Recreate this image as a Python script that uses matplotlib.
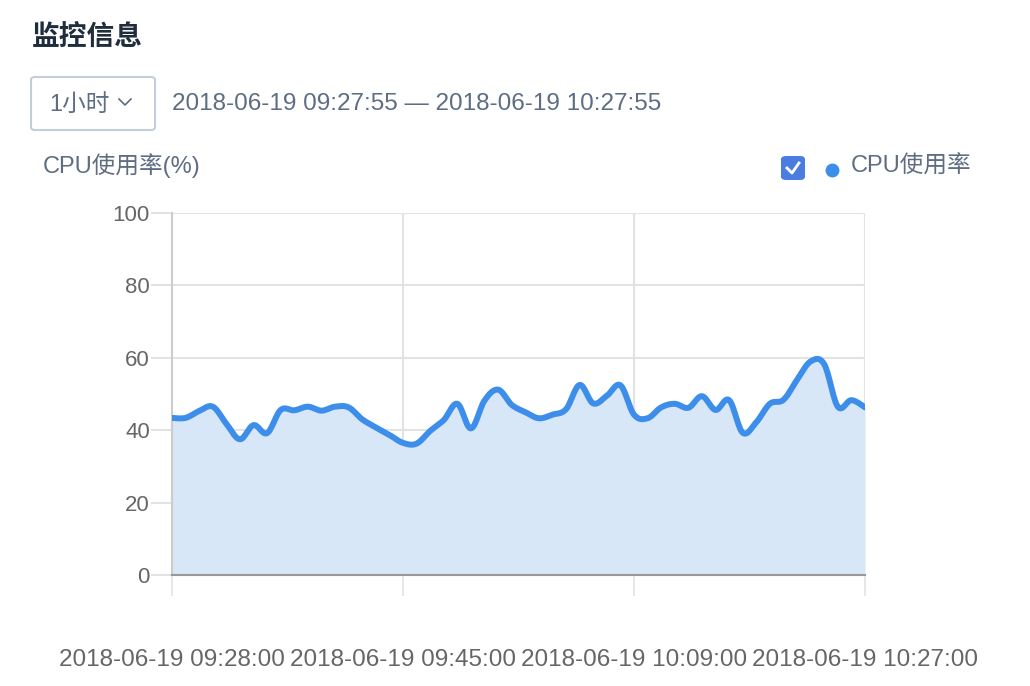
import numpy as np
import matplotlib
matplotlib.use('Agg')
import matplotlib.pyplot as plt
from matplotlib.patches import FancyBboxPatch
from matplotlib.lines import Line2D

plt.rcParams['font.family'] = ['Liberation Sans', 'Noto Sans CJK SC', 'DejaVu Sans']

'''
data read off the chart (one value per category point)
'''
cpu_usage = [43.4, 43.4, 45.3, 46.5, 41.8, 37.5, 41.4, 39.2, 45.6, 45.5,
             46.5, 45.4, 46.5, 46.3, 43.0, 40.8, 38.7, 36.5, 36.3, 39.8,
             42.8, 47.3, 40.5, 48.2, 51.2, 47.0, 45.0, 43.3, 44.3, 45.8,
             52.5, 47.4, 49.5, 52.4, 44.3, 43.3, 46.3, 47.3, 46.2, 49.4,
             45.6, 48.3, 39.3, 42.2, 47.3, 48.4, 53.9, 59.0, 58.2, 46.5,
             48.3, 46.3]
tick_index = [0, 17, 34, 51]
tick_labels = ['2018-06-19 09:28:00', '2018-06-19 09:45:00',
               '2018-06-19 10:09:00', '2018-06-19 10:27:00']
y_ticks = [0, 20, 40, 60, 80, 100]

W, H = 1030, 686
LINE_BLUE = '#3d8eea'
FILL_BLUE = '#d7e7f8'
TEXT_GRAY = '#5e6d82'


def px(x, y):
    return x / W, 1 - y / H


'''
smooth curve through the points (cardinal bezier, like echarts smooth)
'''


def smooth(xs, ys, t=0.35, n=16):
    xs = np.asarray(xs, float)
    ys = np.asarray(ys, float)
    out_x, out_y = [], []
    m = len(xs)
    for i in range(m - 1):
        p0 = np.array([xs[max(i - 1, 0)], ys[max(i - 1, 0)]])
        p1 = np.array([xs[i], ys[i]])
        p2 = np.array([xs[i + 1], ys[i + 1]])
        p3 = np.array([xs[min(i + 2, m - 1)], ys[min(i + 2, m - 1)]])
        c1 = p1 + (p2 - p0) * t / 2
        c2 = p2 - (p3 - p1) * t / 2
        s = np.linspace(0, 1, n, endpoint=False)[:, None]
        pts = ((1 - s) ** 3) * p1 + 3 * ((1 - s) ** 2) * s * c1 + 3 * (1 - s) * s ** 2 * c2 + s ** 3 * p2
        out_x.extend(pts[:, 0])
        out_y.extend(pts[:, 1])
    out_x.append(xs[-1])
    out_y.append(ys[-1])
    return np.array(out_x), np.array(out_y)


fig = plt.figure(figsize=(W / 100, H / 100), dpi=100)
l, b = px(172, 575)
r, t = px(865, 213)
ax = fig.add_axes([l, b, r - l, t - b])

x = np.arange(len(cpu_usage))
sx, sy = smooth(x, cpu_usage)
ax.fill_between(sx, 0, sy, color=FILL_BLUE, lw=0, zorder=1)
ax.plot(sx, sy, color=LINE_BLUE, lw=4.3, solid_capstyle='round', zorder=3)

ax.set_xlim(0, len(cpu_usage) - 1)
ax.set_ylim(0, 100)
ax.set_yticks(y_ticks)
ax.set_yticklabels([str(v) for v in y_ticks])
ax.set_xticks(tick_index)
ax.set_xticklabels(tick_labels)

for v in y_ticks[1:]:
    ax.axhline(v, color='#e3e3e3', lw=1.5, zorder=0)
for i in tick_index[1:]:
    ax.axvline(i, color='#e3e3e3', lw=1.5, zorder=0)

for s in ['top', 'right']:
    ax.spines[s].set_visible(False)
ax.spines['left'].set_color('#cccccc')
ax.spines['left'].set_linewidth(1.5)
ax.spines['bottom'].set_color('#999999')
ax.spines['bottom'].set_linewidth(1.5)
ax.spines['left'].set_zorder(2)
ax.spines['bottom'].set_zorder(4)

ax.tick_params(axis='y', length=15, width=1.2, color='#dddddd', pad=1,
               labelsize=16, labelcolor='#666666')
ax.tick_params(axis='x', length=15, width=1.2, color='#e3e3e3', pad=38,
               labelsize=17.5, labelcolor='#666666')

# header
fig.text(*px(32, 38), '监控信息', fontsize=20, fontweight='bold', color='#1f2d3d',
         va='center', ha='left')
fig.patches.append(FancyBboxPatch(px(31, 130), 124 / W, 53 / H,
                                  boxstyle='round,pad=0,rounding_size=0.004',
                                  transform=fig.transFigure, fc='white',
                                  ec='#c4cedb', lw=1.5))
fig.text(*px(49, 105), '1小时', fontsize=17, color=TEXT_GRAY, va='center', ha='left')
cx, cy = 125, 102
fig.lines.append(Line2D([(cx - 6) / W, cx / W, (cx + 6) / W],
                        [1 - (cy - 3) / H, 1 - (cy + 3) / H, 1 - (cy - 3) / H],
                        transform=fig.transFigure, color=TEXT_GRAY, lw=1.2))
fig.text(*px(172, 104), '2018-06-19 09:27:55 — 2018-06-19 10:27:55', fontsize=17.5,
         color=TEXT_GRAY, va='center', ha='left')

fig.text(*px(43, 166), 'CPU使用率(%)', fontsize=17, color=TEXT_GRAY, va='center', ha='left')

# legend with checkbox
fig.patches.append(FancyBboxPatch(px(781, 180), 24 / W, 24 / H,
                                  boxstyle='round,pad=0,rounding_size=0.005',
                                  transform=fig.transFigure, fc='#4a7ddf', ec='none'))
fig.lines.append(Line2D([787 / W, 792 / W, 799 / W],
                        [1 - 168 / H, 1 - 173 / H, 1 - 163 / H],
                        transform=fig.transFigure, color='white', lw=2))
fig.lines.append(Line2D([832 / W], [1 - 170 / H], marker='o', markersize=9,
                        color=LINE_BLUE, transform=fig.transFigure))
fig.text(*px(851, 167), 'CPU使用率', fontsize=17, color=TEXT_GRAY, va='center', ha='left')

fig.savefig('out.png', dpi=100)
